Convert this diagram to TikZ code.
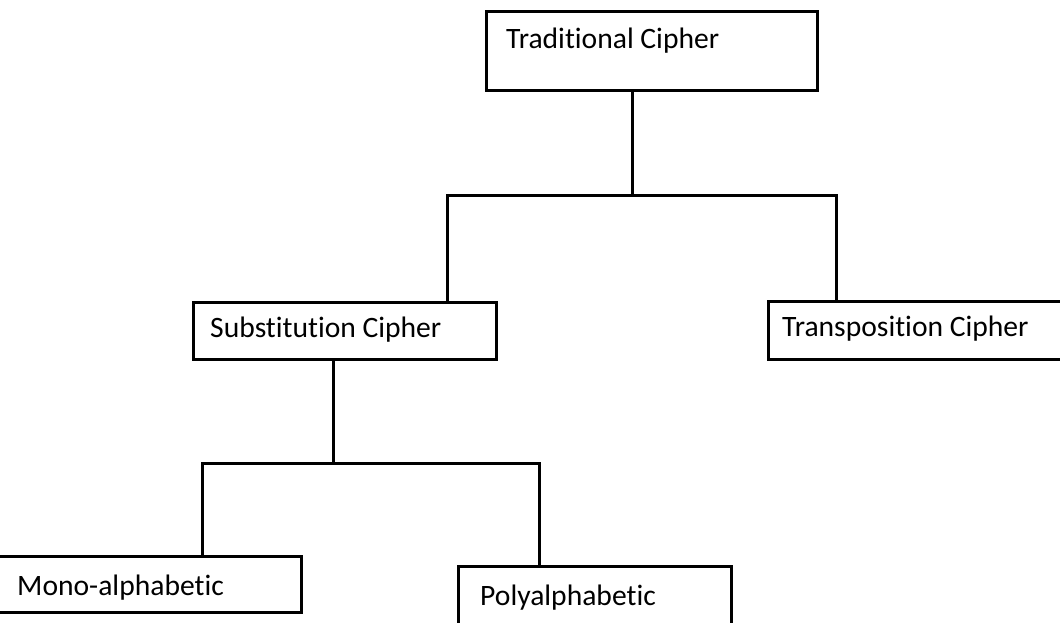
\documentclass[tikz,border=0pt]{standalone}
\usepackage{fontspec}
\setmainfont{Carlito}[Ligatures=NoCommon]
\begin{document}
\begin{tikzpicture}[x=1pt,y=-1pt,
  box/.style={draw=black, line width=2.5pt, fill=white, inner sep=0pt, anchor=north west},
  label text/.style={anchor=base west, inner sep=0pt, font=\fontsize{29.6}{35}\selectfont},
  link/.style={draw=black, line width=3pt}]
  \useasboundingbox (0,0) rectangle (1060,622);
  \clip (0,0) rectangle (1060,622);
  \fill[white] (0,0) rectangle (1060,622);

  % boxes
  \node[box, minimum width=331pt, minimum height=79pt] (trad)  at (485,10)  {};
  \node[box, minimum width=303pt, minimum height=57pt] (sub)   at (192,301) {};
  \node[box, minimum width=303pt, minimum height=58pt] (trans) at (767,300) {};
  \node[box, minimum width=305pt, minimum height=56pt] (mono)  at (-5,555)  {};
  \node[box, minimum width=273pt, minimum height=70pt] (poly)  at (457,565) {};

  % labels
  \node[label text] (tradT)  at (506,48)  {Traditional Cipher};
  \node[label text] (subT)   at (210,337) {Substitution Cipher};
  \node[label text] (transT) at (782,336) {Transposition Cipher};
  \node[label text] (monoT)  at (17,595)  {Mono-alphabetic};
  \node[label text] (polyT)  at (480,605) {Polyalphabetic};

  % junction points of the tree
  \coordinate (j1) at (632,195);
  \coordinate (jL) at (447,195);
  \coordinate (jR) at (836,195);
  \coordinate (j2) at (333,463);
  \coordinate (kL) at (202,463);
  \coordinate (kR) at (539,463);

  % connectors
  \draw[link] (trad.south -| j1) -- (j1);
  \draw[link] (sub.north -| jL) -- (jL) -- (jR) -- (trans.north -| jR);
  \draw[link] (sub.south -| j2) -- (j2);
  \draw[link] (mono.north -| kL) -- (kL) -- (kR) -- (poly.north -| kR);
\end{tikzpicture}
\end{document}
